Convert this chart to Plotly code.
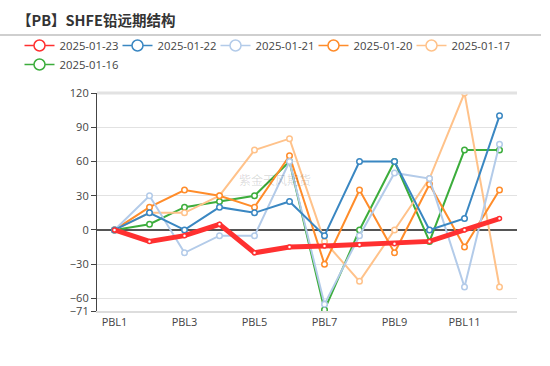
import plotly.graph_objects as go

categories = [f"PBL{i}" for i in range(1, 13)]
tick_labels = ["PBL1", "PBL3", "PBL5", "PBL7", "PBL9", "PBL11"]
y_ticks = [120, 90, 60, 30, 0, -30, -60, -71]

s_0123 = [0, -10, -5, 5, -20, -15, -14, -13, -12, -10, 0, 10]
s_0122 = [0, 15, 0, 20, 15, 25, -5, 60, 60, 0, 10, 100]
s_0121 = [0, 30, -20, -5, -5, 60, -65, -5, 50, 45, -50, 75]
s_0120 = [0, 20, 35, 30, 20, 65, -30, 35, -20, 40, -15, 35]
s_0117 = [0, 15, 15, 30, 70, 80, -10, -45, 0, 45, 120, -50]
s_0116 = [0, 5, 20, 25, 30, 60, -70, 0, 60, -10, 70, 70]

series = [
    ("2025-01-23", s_0123, "#ff3030", 5),
    ("2025-01-22", s_0122, "#3a87c2", 2),
    ("2025-01-21", s_0121, "#b3cbe9", 2),
    ("2025-01-20", s_0120, "#ff8c2a", 2),
    ("2025-01-17", s_0117, "#ffc28a", 2),
    ("2025-01-16", s_0116, "#3cad3c", 2),
]

fig = go.Figure()
# data traces: oldest first so the red line is on top
for name, vals, color, w in reversed(series):
    fig.add_trace(go.Scatter(
        x=categories, y=vals, name=name, mode="lines+markers",
        line=dict(color=color, width=w), showlegend=False,
        marker=dict(symbol="circle", size=5.5 if w < 3 else 4, color="white",
                    line=dict(color=color, width=1.5)),
    ))
# legend entries (same series, legend styling)
for name, vals, color, w in reversed(series):
    fig.add_trace(go.Scatter(
        x=[None], y=[None], name=name, mode="lines+markers",
        line=dict(color=color, width=1.5),
        marker=dict(symbol="circle", size=11, color="white",
                    line=dict(color=color, width=1.5)),
    ))

L, T, W, H = 97, 93, 420, 218

fig.update_layout(
    width=550, height=366,
    margin=dict(l=L, r=550 - L - W, t=T, b=366 - T - H, autoexpand=False),
    paper_bgcolor="white", plot_bgcolor="white",
    font=dict(family="Open Sans, Noto Sans CJK SC", size=12, color="#444"),
    showlegend=True,
    legend=dict(
        orientation="h", traceorder="reversed",
        xref="paper", yref="paper",
        x=(19.5 - L) / W, y=(T + H - 31) / H, xanchor="left", yanchor="top",
        font=dict(size=11.3, color="#444"),
        entrywidth=53, itemwidth=30,
        bgcolor="rgba(0,0,0,0)",
    ),
    xaxis=dict(
        type="category", showgrid=False,
        tickmode="array", tickvals=tick_labels, ticktext=tick_labels,
        showline=True, linecolor="#dddddd", linewidth=2,
        ticks="", tickfont=dict(size=11, color="#444"),
        range=[-0.5, 11.5],
    ),
    yaxis=dict(
        range=[-71, 120], tickmode="array", tickvals=y_ticks,
        showgrid=True, gridcolor="#e2e2e2", gridwidth=1,
        zeroline=True, zerolinecolor="#555", zerolinewidth=1.5,
        showline=True, linecolor="#444", linewidth=1.2,
        ticks="outside", ticklen=5, tickcolor="#444",
        tickfont=dict(size=11, color="#444"),
    ),
    annotations=[
        dict(text="<b>【PB】SHFE铅远期结构</b>", xref="paper", yref="paper",
             x=(15 - L) / W, y=(T + H - 20) / H, xanchor="left", yanchor="middle",
             showarrow=False,
             font=dict(family="Noto Sans CJK SC", size=14.5, color="#333")),
        dict(text="紫金天风期货", xref="paper", yref="paper",
             x=(275 - L) / W, y=(T + H - 179) / H, showarrow=False,
             font=dict(family="Noto Sans CJK SC", size=12, color="rgba(0,0,0,0.15)")),
    ],
)

fig.add_shape(type="line", xref="paper", yref="paper",
              x0=-L / W, x1=(541 - L) / W, y0=(T + H - 35) / H, y1=(T + H - 35) / H,
              line=dict(color="#cfcfcf", width=2))
fig.add_shape(type="line", xref="paper", yref="paper",
              x0=0, x1=1, y0=1, y1=1,
              line=dict(color="#e2e2e2", width=3))

fig.write_html("out.html", config={"displayModeBar": False},
               post_script="document.body.style.margin='0';")
